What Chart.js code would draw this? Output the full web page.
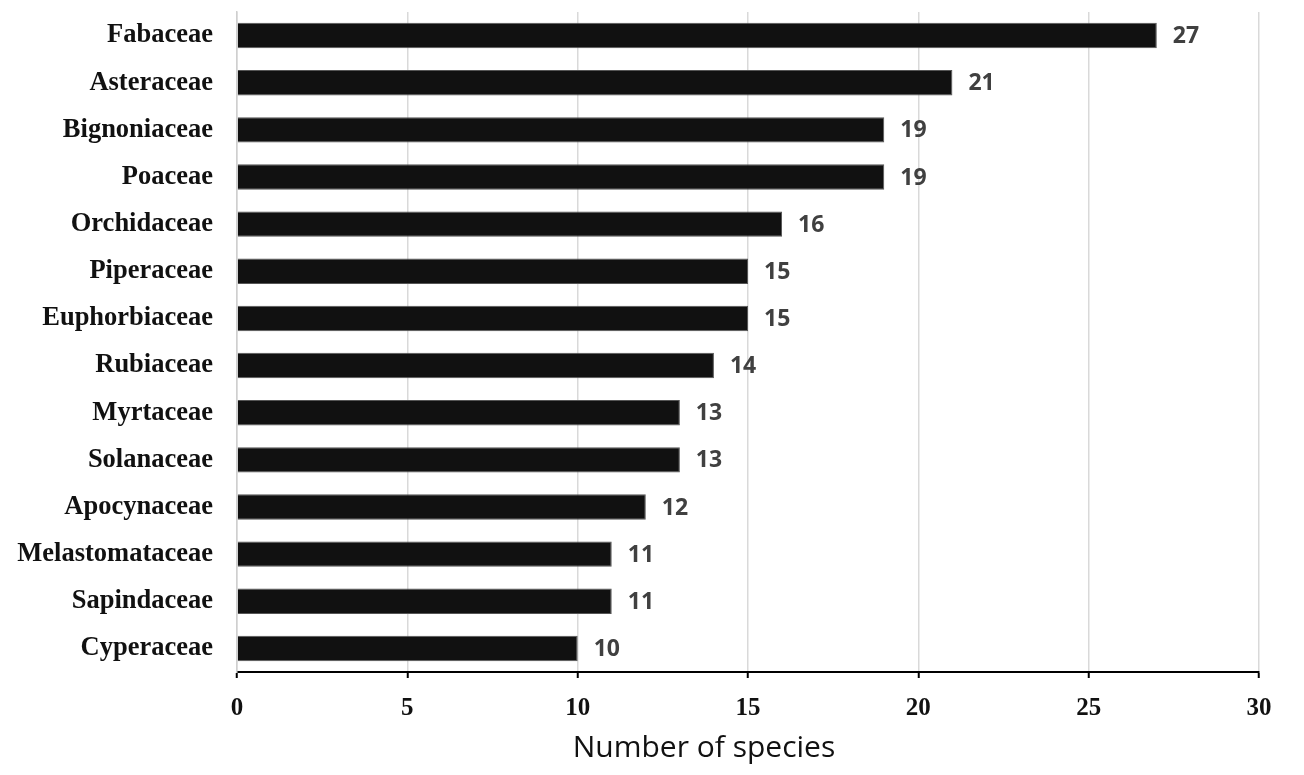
<!DOCTYPE html>
<html>
<head>
<meta charset="utf-8">
<script src="https://cdn.jsdelivr.net/npm/chart.js@4.4.1/dist/chart.umd.min.js"></script>
<style>
  html, body { margin: 0; padding: 0; background: #fff; }
  #wrap { width: 1304px; height: 775px; }
</style>
</head>
<body>
<div id="wrap"><canvas id="familyChart" width="1304" height="775"></canvas></div>
<script>
const families = ['Fabaceae', 'Asteraceae', 'Bignoniaceae', 'Poaceae', 'Orchidaceae', 'Piperaceae',
    'Euphorbiaceae', 'Rubiaceae', 'Myrtaceae', 'Solanaceae', 'Apocynaceae', 'Melastomataceae',
    'Sapindaceae', 'Cyperaceae'];
const speciesCounts = [27, 21, 19, 19, 16, 15, 15, 14, 13, 13, 12, 11, 11, 10];
const xTicks = [0, 5, 10, 15, 20, 25, 30];
const xTitle = 'Number of species';

// value labels right of each bar
const valueLabels = {
    id: 'valueLabels',
    afterDatasetsDraw(chart) {
        const ctx = chart.ctx;
        const meta = chart.getDatasetMeta(0);
        ctx.save();
        ctx.font = 'bold 23px "Open Sans"';
        ctx.fillStyle = '#404040';
        ctx.textAlign = 'left';
        ctx.textBaseline = 'middle';
        meta.data.forEach((bar, i) => {
            ctx.fillText(speciesCounts[i], bar.x + 16, bar.y + 1);
        });
        ctx.restore();
    }
};

// axis title, sits a bit left of the plot centre like the original
const axisTitle = {
    id: 'axisTitle',
    afterDraw(chart) {
        const ctx = chart.ctx;
        ctx.save();
        ctx.font = '30px "Open Sans"';
        ctx.fillStyle = '#111';
        ctx.textAlign = 'center';
        ctx.textBaseline = 'alphabetic';
        ctx.fillText(xTitle, 704, 757);
        ctx.restore();
    }
};

const ctx = document.getElementById('familyChart').getContext('2d');
new Chart(ctx, {
    type: 'bar',
    data: {
        labels: families,
        datasets: [{
            data: speciesCounts,
            backgroundColor: '#111111',
            borderColor: '#555555',
            borderWidth: 1,
            barPercentage: 0.54,
            categoryPercentage: 1.0
        }]
    },
    options: {
        indexAxis: 'y',
        responsive: false,
        animation: false,
        devicePixelRatio: 1,
        layout: { padding: { top: 12, right: 45, bottom: 0, left: 0 } },
        plugins: {
            legend: { display: false },
            tooltip: { enabled: false }
        },
        scales: {
            x: {
                min: 0,
                max: 30,
                afterBuildTicks: (scale) => { scale.ticks = xTicks.map(v => ({ value: v })); },
                afterFit: (scale) => { scale.height = 103; scale.paddingLeft = 0; scale.paddingRight = 0; },
                grid: {
                    color: '#d9d9d9',
                    lineWidth: 1.5,
                    tickLength: 6,
                    tickColor: '#000',
                    tickWidth: 2
                },
                border: { display: true, color: '#000', width: 2 },
                ticks: {
                    color: '#111',
                    padding: 16,
                    font: { family: '"Liberation Serif"', size: 25, weight: 'bold' }
                }
            },
            y: {
                afterFit: (scale) => { scale.width = 237; scale.paddingTop = 0; scale.paddingBottom = 0; },
                grid: { display: false, drawTicks: false },
                border: { display: true, color: '#cfcfcf', width: 1.5 },
                ticks: {
                    color: '#111',
                    padding: 24,
                    font: { family: '"Liberation Serif"', size: 26.5, weight: 'bold' }
                }
            }
        }
    },
    plugins: [valueLabels, axisTitle]
});
</script>
</body>
</html>
